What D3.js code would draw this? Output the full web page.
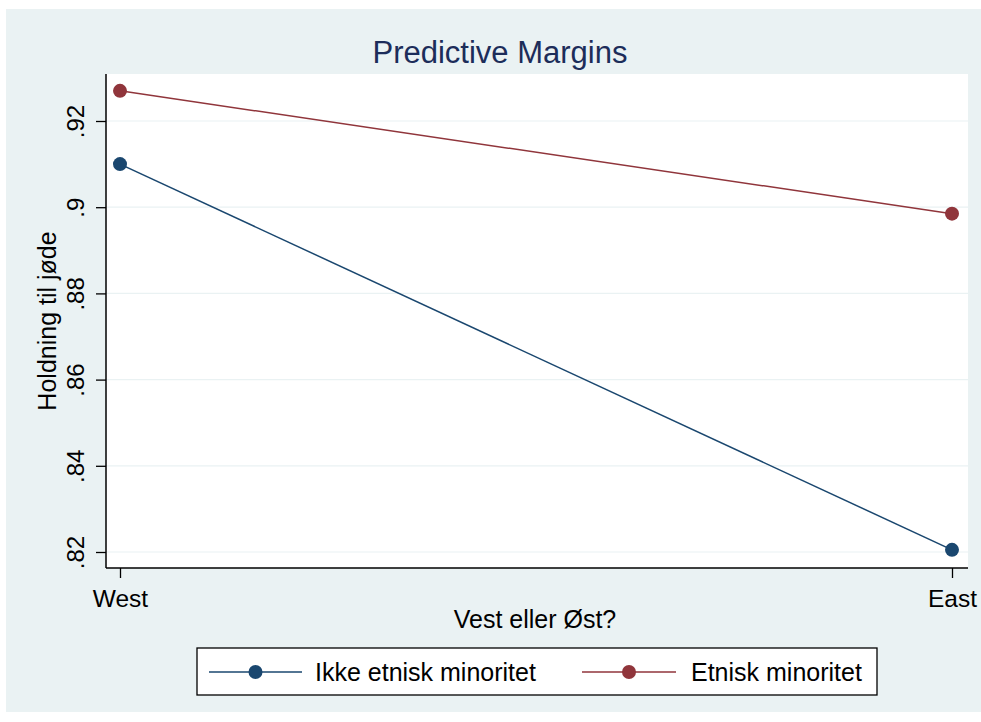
<!DOCTYPE html>
<html>
<head>
<meta charset="utf-8">
<script src="https://cdn.jsdelivr.net/npm/d3@7"></script>
<style>
  html, body { margin: 0; padding: 0; background: #ffffff; }
  svg { display: block; font-family: "Liberation Sans", Arial, sans-serif; }
</style>
</head>
<body>
<svg id="chart" width="981" height="722"></svg>
<script>
// ---- data ----
const categories = ["West", "East"];
const seriesNames = ["Ikke etnisk minoritet", "Etnisk minoritet"];
const ikkeValues = [0.910, 0.8205];
const etniskValues = [0.927, 0.8985];
const yTicks = [0.82, 0.84, 0.86, 0.88, 0.90, 0.92];
const yTickLabels = [".82", ".84", ".86", ".88", ".9", ".92"];
const title = "Predictive Margins";
const xTitle = "Vest eller Øst?";
const yTitle = "Holdning til jøde";

const colors = ["#1a476f", "#90353b"];
const series = [
  { name: seriesNames[0], values: ikkeValues, color: colors[0] },
  { name: seriesNames[1], values: etniskValues, color: colors[1] }
];

const svg = d3.select("#chart");

// outer background
svg.append("rect").attr("x", 6).attr("y", 9).attr("width", 975).attr("height", 703)
  .attr("fill", "#eaf2f3");

const plot = { left: 106, right: 968, top: 74, bottom: 568 };

svg.append("rect").attr("x", plot.left).attr("y", plot.top)
  .attr("width", plot.right - plot.left).attr("height", plot.bottom - plot.top)
  .attr("fill", "#ffffff");

const x = d3.scalePoint().domain(categories).range([120, 952]);
const y = d3.scaleLinear().domain([0.82, 0.92]).range([552, 121]);

// gridlines
svg.append("g").selectAll("line").data(yTicks).join("line")
  .attr("x1", plot.left).attr("x2", plot.right)
  .attr("y1", d => y(d)).attr("y2", d => y(d))
  .attr("stroke", "#eaf2f3").attr("stroke-width", 1.2);

// y axis
const yAxis = d3.axisLeft(y).tickValues(yTicks)
  .tickFormat((d, i) => yTickLabels[i]).tickSize(10).tickSizeOuter(0);
const gy = svg.append("g").attr("transform", `translate(${plot.left},0)`).call(yAxis);
gy.select(".domain").remove();
gy.selectAll(".tick line").attr("stroke", "#000").attr("stroke-width", 1.3);
gy.selectAll(".tick text")
  .attr("x", null).attr("dy", null)
  .attr("transform", "translate(-22,0) rotate(-90)")
  .attr("text-anchor", "middle")
  .attr("font-size", 24).attr("fill", "#000");
svg.append("line").attr("x1", plot.left).attr("x2", plot.left)
  .attr("y1", plot.top).attr("y2", plot.bottom)
  .attr("stroke", "#000").attr("stroke-width", 1.5);

// x axis
const xAxis = d3.axisBottom(x).tickSize(10).tickSizeOuter(0);
const gx = svg.append("g").attr("transform", `translate(0,${plot.bottom})`).call(xAxis);
gx.select(".domain").remove();
gx.selectAll(".tick line").attr("stroke", "#000").attr("stroke-width", 1.3);
gx.selectAll(".tick text").attr("y", 39).attr("dy", null)
  .attr("font-size", 24.5).attr("fill", "#000");
svg.append("line").attr("x1", plot.left).attr("x2", plot.right)
  .attr("y1", plot.bottom).attr("y2", plot.bottom)
  .attr("stroke", "#000").attr("stroke-width", 1.5);

// axis titles
svg.append("text").attr("x", 535).attr("y", 628).attr("text-anchor", "middle")
  .attr("font-size", 25).attr("fill", "#000").text(xTitle);
svg.append("text").attr("transform", "translate(56,321) rotate(-90)")
  .attr("text-anchor", "middle").attr("font-size", 25).attr("fill", "#000").text(yTitle);

// title
svg.append("text").attr("x", 500).attr("y", 63).attr("text-anchor", "middle")
  .attr("font-size", 31).attr("fill", "#1c2d5a").text(title);

// lines and markers
const line = d3.line().x((d, i) => x(categories[i])).y(d => y(d));
series.forEach(s => {
  svg.append("path").attr("d", line(s.values)).attr("fill", "none")
    .attr("stroke", s.color).attr("stroke-width", 1.5);
  svg.append("g").selectAll("circle").data(s.values).join("circle")
    .attr("cx", (d, i) => x(categories[i])).attr("cy", d => y(d))
    .attr("r", 7).attr("fill", s.color);
});

// legend
svg.append("rect").attr("x", 197).attr("y", 648).attr("width", 680).attr("height", 47)
  .attr("fill", "#ffffff").attr("stroke", "#000").attr("stroke-width", 1.3);
const legendItems = [
  { x1: 209, x2: 302, tx: 315 },
  { x1: 582, x2: 676, tx: 691 }
];
series.forEach((s, i) => {
  const li = legendItems[i];
  svg.append("line").attr("x1", li.x1).attr("x2", li.x2).attr("y1", 672).attr("y2", 672)
    .attr("stroke", s.color).attr("stroke-width", 1.5);
  svg.append("circle").attr("cx", (li.x1 + li.x2) / 2).attr("cy", 672).attr("r", 7)
    .attr("fill", s.color);
  svg.append("text").attr("x", li.tx).attr("y", 681).attr("font-size", 25)
    .attr("fill", "#000").text(s.name);
});
</script>
</body>
</html>
